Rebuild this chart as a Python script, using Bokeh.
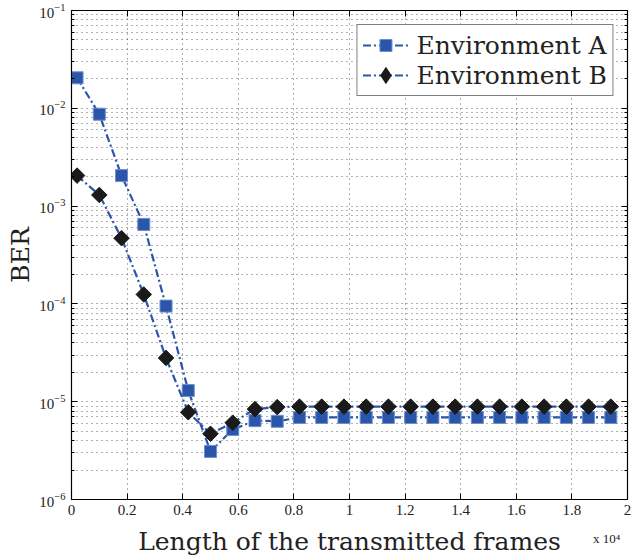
from bokeh.plotting import figure
from bokeh.models import (FixedTicker, LinearAxis, LogAxis, Legend, LegendItem,
                          CustomJSTickFormatter, ColumnDataSource)
from bokeh.embed import file_html
from bokeh.resources import INLINE

# Frame length (number of transmitted frames)
frames = [200, 1000, 1800, 2600, 3400, 4200, 5000, 5800, 6600, 7400, 8200, 9000, 9800,
          10600, 11400, 12200, 13000, 13800, 14600, 15400, 16200, 17000, 17800, 18600, 19400]

# Bit error rate for each environment
ber_a = [2.05e-2, 8.7e-3, 2.05e-3, 6.5e-4, 9.5e-5, 1.3e-5, 3.1e-6, 5.2e-6, 6.4e-6, 6.3e-6,
         6.9e-6, 6.9e-6, 6.9e-6, 6.9e-6, 6.9e-6, 6.9e-6, 6.9e-6, 6.9e-6, 6.9e-6, 6.9e-6,
         6.9e-6, 6.9e-6, 6.9e-6, 6.9e-6, 6.9e-6]
ber_b = [2.05e-3, 1.3e-3, 4.7e-4, 1.25e-4, 2.8e-5, 7.8e-6, 4.7e-6, 6.1e-6, 8.4e-6, 8.8e-6,
         8.9e-6, 8.9e-6, 8.9e-6, 8.9e-6, 8.9e-6, 8.9e-6, 8.9e-6, 8.9e-6, 8.9e-6, 8.9e-6,
         8.9e-6, 8.9e-6, 8.9e-6, 8.9e-6, 8.9e-6]

TICK_FONT = "Liberation Serif"
TEXT_FONT = "DejaVu Serif"
BLUE = "#2b55a8"
INK = "#222222"

p = figure(width=637, height=558, y_axis_type="log",
           x_range=(0, 20000), y_range=(1e-6, 1e-1),
           output_backend="svg", toolbar_location=None,
           min_border_left=71, min_border_right=10, min_border_top=10,
           min_border_bottom=57)
p.background_fill_color = "white"
p.border_fill_color = "white"
p.outline_line_color = "black"
p.outline_line_width = 1.2

x_ticks = FixedTicker(ticks=list(range(0, 20001, 2000)))
y_major = [10.0 ** e for e in range(-6, 0)]
y_minor = [k * 10.0 ** e for e in range(-6, -1) for k in range(2, 10)]
y_ticks = FixedTicker(ticks=y_major, minor_ticks=y_minor)

fmt_x = CustomJSTickFormatter(code="return Number((tick/1e4).toFixed(1)).toString();")

def style_axis(ax, show_labels=True):
    ax.axis_line_color = "black"
    ax.major_tick_in = 6
    ax.major_tick_out = 0
    ax.minor_tick_in = 3
    ax.minor_tick_out = 0
    ax.major_tick_line_color = "black"
    ax.minor_tick_line_color = "black"
    ax.major_label_text_font = TICK_FONT
    ax.major_label_text_font_size = "15px" if show_labels else "1px"
    ax.major_label_text_color = INK
    if not show_labels:
        ax.major_label_text_alpha = 0
        ax.major_label_standoff = 0
    ax.axis_label_text_font = TEXT_FONT
    ax.axis_label_text_font_style = "normal"
    ax.axis_label_text_color = INK

# bottom axis: ticks and tick labels only
xa = p.xaxis[0]
xa.ticker = x_ticks
xa.formatter = fmt_x
xa.major_label_standoff = 5
style_axis(xa)

# second bottom row: the x10^4 scale factor at the right end, plus the axis title
scale_row = LinearAxis(ticker=FixedTicker(ticks=[19250]),
                       formatter=CustomJSTickFormatter(code="return 'x 10\u2074';"))
scale_row.axis_line_color = None
scale_row.major_tick_line_color = None
scale_row.minor_tick_line_color = None
scale_row.major_tick_in = 0
scale_row.major_tick_out = 0
scale_row.major_label_standoff = 13
scale_row.major_label_text_font = TICK_FONT
scale_row.major_label_text_font_size = "13px"
scale_row.major_label_text_color = INK
scale_row.axis_label = "Length of the transmitted frames"
scale_row.axis_label_text_font = TEXT_FONT
scale_row.axis_label_text_font_size = "25px"
scale_row.axis_label_text_font_style = "normal"
scale_row.axis_label_text_color = INK
scale_row.axis_label_standoff = -22
p.add_layout(scale_row, "below")

ya = p.yaxis[0]
ya.ticker = y_ticks
ya.axis_label = "BER"
ya.axis_label_text_font_size = "25px"
ya.axis_label_standoff = 1
ya.major_label_standoff = 6
style_axis(ya)

top = LinearAxis(ticker=x_ticks, formatter=fmt_x)
style_axis(top, show_labels=False)
p.add_layout(top, "above")
right = LogAxis(ticker=y_ticks)
style_axis(right, show_labels=False)
p.add_layout(right, "right")

p.xgrid.ticker = x_ticks
p.ygrid.ticker = y_ticks
for g in (p.xgrid[0], p.ygrid[0]):
    g.grid_line_color = "#333333"
    g.grid_line_dash = "1 4"
    g.grid_line_width = 0.9
    g.grid_line_alpha = 0.85
p.ygrid.minor_grid_line_color = "#333333"
p.ygrid.minor_grid_line_dash = "1 4"
p.ygrid.minor_grid_line_width = 0.9
p.ygrid.minor_grid_line_alpha = 0.85

src = ColumnDataSource(dict(x=frames, a=ber_a, b=ber_b))

DASHDOT = "8 3 2 3"
la = p.line("x", "a", source=src, line_color=BLUE, line_width=2.2, line_dash=DASHDOT)
ma = p.scatter("x", "a", source=src, marker="square", size=12,
               fill_color=BLUE, line_color="#6b8fd0", line_width=1)
lb = p.line("x", "b", source=src, line_color=BLUE, line_width=2.2, line_dash=DASHDOT)
# diamonds drawn as squares turned by 45 degrees
mb = p.scatter("x", "b", source=src, marker="square", size=11, angle=0.7854,
               fill_color="#1a1a1a", line_color="#1a1a1a", line_width=1)
# legend swatch for the diamonds (legend swatches are never rotated)
mb_key = p.scatter("x", "b", source=src, marker="diamond", size=14,
                   fill_color="#1a1a1a", line_color="#1a1a1a", line_width=3,
                   line_join="miter", visible=False)

legend = Legend(items=[LegendItem(label="Environment A", renderers=[la, ma]),
                       LegendItem(label="Environment B", renderers=[lb, mb_key])],
                location="top_right")
legend.label_text_font = TEXT_FONT
legend.label_text_font_size = "25px"
legend.label_text_color = INK
legend.border_line_color = "black"
legend.border_line_width = 1.5
legend.background_fill_alpha = 1
legend.glyph_width = 46
legend.glyph_height = 30
legend.label_standoff = 8
legend.padding = 5
legend.spacing = 0
legend.margin = 14
p.add_layout(legend)

open("out.html", "w").write(file_html(p, INLINE))
